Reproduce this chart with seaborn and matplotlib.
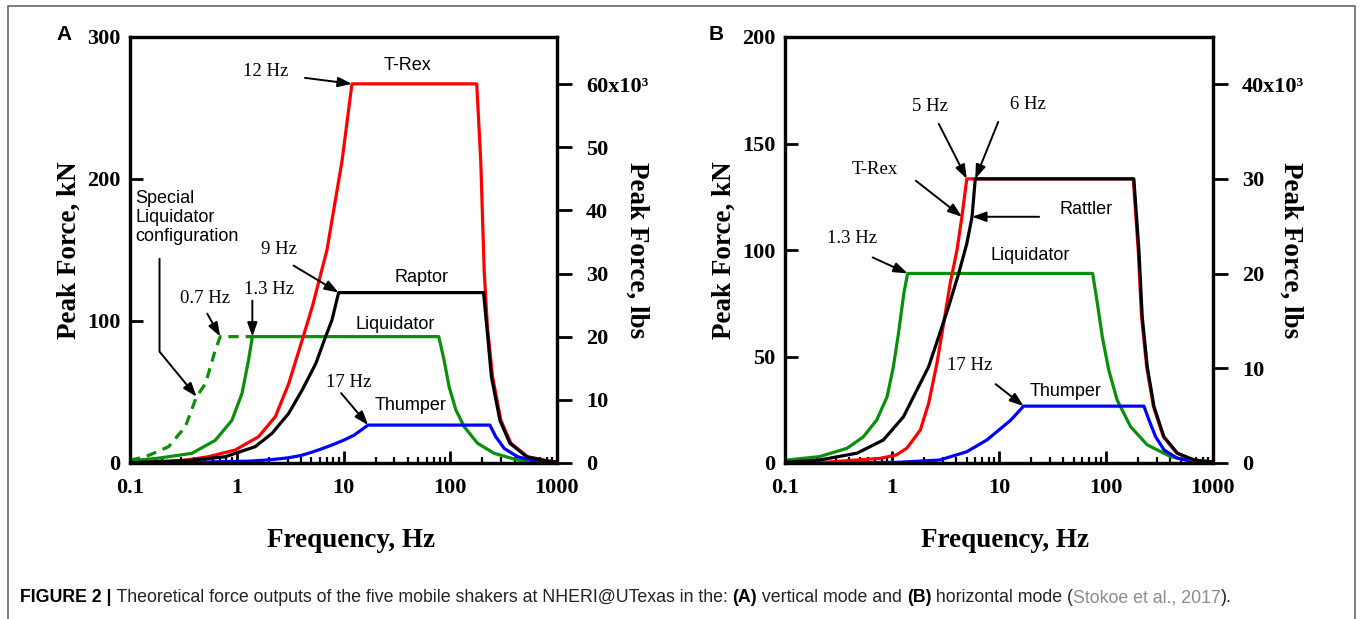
import matplotlib.pyplot as plt
import seaborn as sns
import pandas as pd
import numpy as np
from matplotlib.lines import Line2D

KN_TO_LBS = 224.809

# ---- Panel A: vertical mode (frequency in Hz, force in kN) ----
trex_a_f = [0.2, 0.33, 0.54, 0.97, 1.6, 2.3, 3.07, 4.1, 5.1, 7.0, 9.7, 12, 177, 193, 208, 223, 249, 298, 370, 531, 813, 1000]
trex_a_F = [0.4, 2, 4.4, 9.2, 18.5, 32.6, 56, 86.6, 110, 150, 213, 267, 267, 213, 135, 96, 60.8, 30, 13.9, 4.4, 1.5, 0.5]

raptor_a_f = [0.1, 0.38, 0.78, 1.49, 2.14, 3.07, 4.1, 5.5, 6.8, 7.8, 9, 205, 220, 243, 292, 362, 520, 800, 1000]
raptor_a_F = [0.2, 2, 4.4, 11.5, 20.9, 35, 51.4, 70, 89, 100.7, 120, 120, 96, 60.8, 30, 13.9, 4.4, 1.5, 0.5]

liq_a_f = [0.1, 0.18, 0.38, 0.63, 0.9, 1.12, 1.29, 1.4, 78, 87.5, 97.5, 113, 135, 180, 258, 427, 657, 1000]
liq_a_F = [1.5, 3.3, 6.8, 16, 30, 49, 72.5, 89, 89, 72.5, 53.7, 37.3, 25.6, 13.9, 6.8, 2.1, 0.7, 0.2]

special_a_f = [0.1, 0.14, 0.23, 0.33, 0.42, 0.51, 0.63, 0.7, 1.4]
special_a_F = [2, 4.4, 11.5, 25.6, 46.7, 56, 79.6, 89, 89]

thumper_a_f = [0.22, 1.3, 2, 3, 4, 5, 6, 8, 10, 12.5, 17, 235, 267, 320, 427, 657, 1000]
thumper_a_F = [0.2, 1.3, 2.2, 3.6, 5.3, 7.5, 9.5, 13, 16, 19.5, 26.7, 26.7, 18.5, 10.3, 4.4, 1, 0.3]

# ---- Panel B: horizontal mode ----
trex_b_f = [0.1, 0.26, 0.78, 1.1, 1.38, 1.84, 2.2, 2.63, 3.04, 3.5, 4.05, 4.5, 5.0, 180, 200, 215, 240, 278, 344, 460, 660, 1000]
trex_b_F = [0, 0.5, 2.2, 3.8, 7, 15.5, 28, 46.8, 65.6, 84.4, 100, 115.6, 133.4, 133.4, 100, 68.7, 45.2, 26.4, 12.3, 4.6, 1.4, 0.6]

rattler_b_f = [0.1, 0.21, 0.47, 0.83, 1.28, 1.71, 2.2, 2.73, 3.38, 4.2, 5.0, 5.6, 6.0, 182, 203, 218, 243, 281, 348, 465, 666, 1000]
rattler_b_F = [0.3, 1.4, 4.6, 10.8, 21.7, 34.3, 45.2, 59.3, 73.4, 89, 103, 115.6, 133.4, 133.4, 100, 68.7, 45.2, 26.4, 12.3, 4.6, 1.4, 0.4]

liq_b_f = [0.1, 0.21, 0.38, 0.54, 0.72, 0.9, 1.03, 1.15, 1.29, 1.4, 75, 83, 92.3, 106, 127, 170, 243, 402, 666, 1000]
liq_b_F = [1.3, 3, 6.9, 12.3, 20.2, 31.1, 45.2, 60.9, 79.7, 89, 89, 75, 59.3, 43.7, 29.6, 17, 8.5, 3, 0.7, 0.2]

thumper_b_f = [0.1, 1.1, 2.8, 5.0, 7.7, 12.8, 17, 226, 252, 291, 349, 465, 666, 1000]
thumper_b_F = [0, 0.3, 1.4, 5.3, 10.8, 20, 26.7, 26.7, 20.2, 12.3, 6.1, 2.2, 0.7, 0.3]

# ---- axes ticks ----
freq_ticks = [0.1, 1, 10, 100, 1000]
freq_labels = ['0.1', '1', '10', '100', '1000']
kn_ticks_a = [0, 100, 200, 300]
kn_ticks_b = [0, 50, 100, 150, 200]
lbs_ticks_a = [0, 10000, 20000, 30000, 40000, 50000, 60000]
lbs_labels_a = ['0', '10', '20', '30', '40', '50', '60x10\u00b3']
lbs_ticks_b = [0, 10000, 20000, 30000, 40000]
lbs_labels_b = ['0', '10', '20', '30', '40x10\u00b3']

RED, BLACK, GREEN, BLUE = '#ff0000', '#000000', '#0a8f0a', '#0000ff'

sns.set_style('ticks')
plt.rcParams['font.family'] = ['Liberation Serif', 'DejaVu Serif']
plt.rcParams.update({'axes.edgecolor': 'black', 'xtick.color': 'black', 'ytick.color': 'black',
                     'text.color': 'black', 'axes.labelcolor': 'black'})
SANS = ['Liberation Sans', 'DejaVu Sans']

W, H = 1362, 619
fig = plt.figure(figsize=(W / 100, H / 100), dpi=100)
axA = fig.add_axes([130 / W, 1 - 463 / H, 427 / W, 426 / H])
axB = fig.add_axes([785 / W, 1 - 463 / H, 428 / W, 426 / H])


def curve(ax, f, F, color, ls='-'):
    sns.lineplot(x=f, y=F, ax=ax, color=color, linewidth=2.3, linestyle=ls,
                 sort=False, estimator=None)


def style(ax, ymax, kn_ticks, lbs_ticks, lbs_labels):
    ax.set_xscale('log')
    ax.set_xlim(0.1, 1000)
    ax.set_ylim(0, ymax)
    ax.set_xticks(freq_ticks)
    ax.set_xticklabels(freq_labels)
    ax.xaxis.set_minor_formatter(plt.NullFormatter())
    ax.set_yticks(kn_ticks)
    ax.tick_params(axis='x', which='major', direction='in', length=9, width=2, pad=11, labelsize=16)
    ax.tick_params(axis='x', which='minor', direction='in', length=4.5, width=1.6)
    ax.tick_params(axis='y', direction='in', length=9, width=2, pad=7, labelsize=16)
    for lab in ax.get_xticklabels() + ax.get_yticklabels():
        lab.set_fontweight('bold')
    for sp in ax.spines.values():
        sp.set_visible(True)
        sp.set_linewidth(2.3)
        sp.set_color('black')
    ax.set_xlabel('Frequency, Hz', fontsize=19.5, fontweight='bold')
    ax.xaxis.set_label_coords(0.517, -0.153)
    ax.set_ylabel('Peak Force, kN', fontsize=19.5, fontweight='bold', va='center', ha='center')
    ax.yaxis.set_label_coords(-0.143, 0.5)

    tw = ax.twinx()
    tw.set_ylim(0, ymax * KN_TO_LBS)
    tw.set_yticks(lbs_ticks)
    tw.set_yticklabels(lbs_labels)
    tw.tick_params(axis='y', direction='out', length=11, width=2, pad=10, labelsize=16)
    for lab in tw.get_yticklabels():
        lab.set_fontweight('bold')
    for sp in tw.spines.values():
        sp.set_linewidth(2.3)
        sp.set_color('black')
    tw.set_ylabel('Peak Force, lbs', fontsize=19.5, fontweight='bold', rotation=270,
                  va='center', ha='center')
    tw.yaxis.set_label_coords(1.188, 0.5)
    return tw


def arrow(ax, head, dx, dy, conn='arc3'):
    ax.annotate('', xy=head, xycoords='data', xytext=(dx, dy), textcoords='offset pixels',
                arrowprops=dict(arrowstyle='-|>,head_length=0.7,head_width=0.25', color='black',
                                lw=1.4, mutation_scale=12, shrinkA=0, shrinkB=0,
                                connectionstyle=conn))


def label(ax, x, y, s, sans=False, **kw):
    ax.text(x, y, s, transform=ax.transAxes, ha='center', va='center',
            fontsize=13.5 if not sans else 13, family=SANS if sans else None, **kw)


# ---- Panel A ----
curve(axA, special_a_f, special_a_F, GREEN, ls=(0, (3.2, 2.2)))
curve(axA, liq_a_f, liq_a_F, GREEN)
curve(axA, thumper_a_f, thumper_a_F, BLUE)
curve(axA, trex_a_f, trex_a_F, RED)
curve(axA, raptor_a_f, raptor_a_F, BLACK)
style(axA, 300, kn_ticks_a, lbs_ticks_a, lbs_labels_a)

label(axA, 0.3185, 0.918, '12 Hz')
label(axA, 0.651, 0.932, 'T-Rex', sans=True)
axA.text(0.012, 0.577, 'Special\nLiquidator\nconfiguration', transform=axA.transAxes,
         ha='left', va='center', fontsize=13, family=SANS, linespacing=1.15)
label(axA, 0.1756, 0.385, '0.7 Hz')
label(axA, 0.3255, 0.408, '1.3 Hz')
label(axA, 0.349, 0.50, '9 Hz')
label(axA, 0.6815, 0.4366, 'Raptor', sans=True)
label(axA, 0.6206, 0.324, 'Liquidator', sans=True)
label(axA, 0.5129, 0.190, '17 Hz')
label(axA, 0.658, 0.134, 'Thumper', sans=True)

arrow(axA, (trex_a_f[11], trex_a_F[11]), -47, 6)
arrow(axA, (special_a_f[4], special_a_F[4]), -37, 138, conn='angle,angleA=90,angleB=-50.6,rad=0')
arrow(axA, (special_a_f[7], special_a_F[7]), -13, 23)
arrow(axA, (liq_a_f[7], liq_a_F[7]), 0, 36)
arrow(axA, (raptor_a_f[10], raptor_a_F[10]), -45, 27)
arrow(axA, (thumper_a_f[10], thumper_a_F[10]), -27, 32)

# ---- Panel B ----
curve(axB, liq_b_f, liq_b_F, GREEN)
curve(axB, thumper_b_f, thumper_b_F, BLUE)
curve(axB, trex_b_f, trex_b_F, RED)
curve(axB, rattler_b_f, rattler_b_F, BLACK)
twB = style(axB, 200, kn_ticks_b, lbs_ticks_b, lbs_labels_b)
twB.yaxis.set_label_coords(1.182, 0.5)
axB.xaxis.set_label_coords(0.515, -0.153)
axB.yaxis.set_label_coords(-0.1425, 0.5)

label(axB, 0.3388, 0.8357, '5 Hz')
label(axB, 0.5678, 0.8404, '6 Hz')
label(axB, 0.2103, 0.6878, 'T-Rex')
label(axB, 0.7033, 0.594, 'Rattler', sans=True)
label(axB, 0.1565, 0.528, '1.3 Hz')
label(axB, 0.5724, 0.488, 'Liquidator', sans=True)
label(axB, 0.4322, 0.230, '17 Hz')
label(axB, 0.6565, 0.1667, 'Thumper', sans=True)

arrow(axB, (trex_b_f[12], trex_b_F[12]), -28, 55)
arrow(axB, (rattler_b_f[12], rattler_b_F[12]), 23, 57)
arrow(axB, (trex_b_f[11], trex_b_F[11]), -46, 36)
arrow(axB, (rattler_b_f[11], rattler_b_F[11]), 67, 0)
arrow(axB, (liq_b_f[9], liq_b_F[9]), -35, 16)
arrow(axB, (thumper_b_f[6], thumper_b_F[6]), -28, 22)

# panel letters
fig.text(64 / W, 1 - 34 / H, 'A', family=SANS, fontweight='bold', fontsize=15, ha='center', va='center')
fig.text(716 / W, 1 - 34 / H, 'B', family=SANS, fontweight='bold', fontsize=15, ha='center', va='center')

# frame around the figure
fig.add_artist(Line2D([8 / W, 8 / W, 1355 / W, 1355 / W], [0, 1 - 6 / H, 1 - 6 / H, 0],
                      transform=fig.transFigure, color='#666666', lw=1.2))

# caption, assembled piece by piece
pieces = [('FIGURE 2 |', 'bold', 'black'),
          (' Theoretical force outputs of the five mobile shakers at NHERI@UTexas in the: ', 'normal', '#222222'),
          ('(A)', 'bold', 'black'),
          (' vertical mode and ', 'normal', '#222222'),
          ('(B)', 'bold', 'black'),
          (' horizontal mode (', 'normal', '#222222'),
          ('Stokoe et al., 2017', 'normal', '#8c8c8c'),
          (').', 'normal', '#222222')]
renderer = fig.canvas.get_renderer()
x = 20 / W
for s, wt, col in pieces:
    t = fig.text(x, 1 - 598 / H, s, family=SANS, fontweight=wt, color=col, fontsize=12.8,
                 ha='left', va='center')
    x += t.get_window_extent(renderer).width / W

fig.savefig('out.png', dpi=100)
